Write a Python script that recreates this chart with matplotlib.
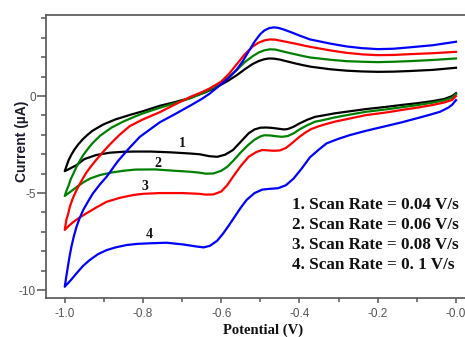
import matplotlib
matplotlib.use("Agg")
import matplotlib.pyplot as plt
from matplotlib.ticker import MultipleLocator, FixedLocator, FixedFormatter

# ---------------- data ----------------
# Each curve: cathodic branch (0 -> -1 V) followed by anodic branch (-1 -> 0 V)
x1_low = [0.0, -0.01, -0.03, -0.06, -0.10, -0.14, -0.18, -0.23, -0.27, -0.31, -0.34, -0.36, -0.38, -0.40, -0.415, -0.43, -0.44, -0.455, -0.47, -0.485, -0.50, -0.515, -0.53, -0.55, -0.57, -0.59, -0.61, -0.63, -0.655, -0.68, -0.73, -0.78, -0.82, -0.85, -0.885, -0.92, -0.95, -0.97, -0.985, -1.0]
y1_low = [0.15, 0.0, -0.15, -0.26, -0.37, -0.46, -0.56, -0.67, -0.78, -0.89, -1.0, -1.07, -1.22, -1.41, -1.58, -1.70, -1.72, -1.68, -1.64, -1.62, -1.63, -1.72, -1.92, -2.35, -2.78, -3.02, -3.13, -3.10, -3.00, -2.96, -2.90, -2.86, -2.86, -2.87, -2.92, -3.04, -3.25, -3.56, -3.72, -3.87]
x1_up = [-1.0, -0.995, -0.99, -0.983, -0.975, -0.965, -0.955, -0.943, -0.93, -0.915, -0.90, -0.87, -0.83, -0.80, -0.757, -0.72, -0.68, -0.64, -0.61, -0.585, -0.56, -0.54, -0.52, -0.505, -0.49, -0.478, -0.465, -0.45, -0.43, -0.41, -0.39, -0.37, -0.32, -0.28, -0.24, -0.20, -0.16, -0.12, -0.06, 0.0]
y1_up = [-3.87, -3.58, -3.30, -3.02, -2.75, -2.48, -2.25, -2.02, -1.80, -1.62, -1.45, -1.20, -0.95, -0.78, -0.50, -0.32, -0.10, 0.20, 0.48, 0.76, 1.08, 1.38, 1.65, 1.80, 1.90, 1.94, 1.93, 1.88, 1.78, 1.68, 1.59, 1.51, 1.38, 1.31, 1.27, 1.25, 1.26, 1.29, 1.35, 1.46]

x2_low = [0.0, -0.01, -0.03, -0.06, -0.10, -0.14, -0.18, -0.23, -0.27, -0.31, -0.34, -0.36, -0.38, -0.40, -0.415, -0.43, -0.445, -0.46, -0.475, -0.49, -0.50, -0.515, -0.53, -0.55, -0.57, -0.585, -0.60, -0.62, -0.64, -0.655, -0.68, -0.72, -0.77, -0.82, -0.85, -0.88, -0.91, -0.935, -0.95, -0.965, -0.98, -0.99, -1.0]
y2_low = [0.10, -0.08, -0.22, -0.34, -0.47, -0.58, -0.69, -0.81, -0.95, -1.10, -1.24, -1.32, -1.50, -1.72, -1.92, -2.06, -2.10, -2.07, -2.03, -2.02, -2.08, -2.25, -2.50, -2.90, -3.35, -3.65, -3.85, -3.99, -4.00, -3.95, -3.90, -3.85, -3.78, -3.79, -3.85, -3.94, -4.07, -4.25, -4.42, -4.62, -4.85, -5.00, -5.15]
x2_up = [-1.0, -0.995, -0.99, -0.985, -0.978, -0.97, -0.962, -0.953, -0.94, -0.93, -0.91, -0.88, -0.851, -0.82, -0.80, -0.757, -0.72, -0.68, -0.64, -0.61, -0.585, -0.56, -0.54, -0.52, -0.505, -0.49, -0.476, -0.462, -0.45, -0.43, -0.41, -0.39, -0.373, -0.32, -0.28, -0.24, -0.20, -0.16, -0.12, -0.06, 0.0]
y2_up = [-5.15, -4.85, -4.60, -4.30, -4.00, -3.65, -3.35, -3.05, -2.70, -2.45, -2.05, -1.62, -1.32, -1.05, -0.89, -0.60, -0.38, -0.12, 0.22, 0.55, 0.92, 1.35, 1.75, 2.05, 2.24, 2.36, 2.41, 2.40, 2.34, 2.24, 2.15, 2.06, 1.99, 1.87, 1.80, 1.77, 1.75, 1.77, 1.80, 1.86, 1.94]

x3_low = [0.0, -0.01, -0.03, -0.06, -0.10, -0.14, -0.18, -0.23, -0.27, -0.31, -0.33, -0.35, -0.37, -0.385, -0.40, -0.42, -0.435, -0.45, -0.465, -0.48, -0.495, -0.51, -0.53, -0.55, -0.57, -0.585, -0.60, -0.62, -0.64, -0.655, -0.70, -0.757, -0.80, -0.825, -0.86, -0.893, -0.92, -0.945, -0.965, -0.98, -0.99, -1.0]
y3_low = [0.0, -0.20, -0.33, -0.46, -0.60, -0.72, -0.85, -0.98, -1.15, -1.32, -1.43, -1.55, -1.70, -1.88, -2.10, -2.44, -2.68, -2.80, -2.82, -2.80, -2.78, -2.88, -3.13, -3.60, -4.16, -4.60, -4.92, -5.07, -5.08, -5.04, -5.00, -5.00, -5.04, -5.10, -5.25, -5.45, -5.75, -6.05, -6.30, -6.52, -6.70, -6.90]
x3_up = [-1.0, -0.996, -0.991, -0.987, -0.98, -0.97, -0.958, -0.945, -0.932, -0.92, -0.903, -0.885, -0.86, -0.834, -0.80, -0.757, -0.72, -0.68, -0.65, -0.629, -0.60, -0.58, -0.56, -0.54, -0.52, -0.505, -0.49, -0.476, -0.462, -0.45, -0.43, -0.41, -0.39, -0.373, -0.32, -0.28, -0.24, -0.20, -0.16, -0.12, -0.06, 0.0]
y3_up = [-6.90, -6.39, -6.05, -5.71, -5.30, -4.85, -4.40, -3.95, -3.60, -3.30, -2.90, -2.50, -2.00, -1.55, -1.20, -0.83, -0.45, -0.05, 0.20, 0.40, 0.75, 1.15, 1.65, 2.15, 2.55, 2.75, 2.87, 2.92, 2.91, 2.86, 2.78, 2.70, 2.61, 2.54, 2.35, 2.23, 2.15, 2.11, 2.12, 2.16, 2.21, 2.28]

x4_low = [0.0, -0.01, -0.02, -0.041, -0.07, -0.101, -0.14, -0.186, -0.23, -0.271, -0.30, -0.331, -0.35, -0.373, -0.395, -0.415, -0.435, -0.455, -0.475, -0.495, -0.515, -0.535, -0.55, -0.565, -0.58, -0.595, -0.61, -0.629, -0.645, -0.665, -0.697, -0.740, -0.783, -0.815, -0.842, -0.87, -0.893, -0.915, -0.936, -0.953, -0.970, -0.985, -1.0]
y4_low = [-0.21, -0.45, -0.60, -0.81, -0.98, -1.15, -1.36, -1.58, -1.79, -2.01, -2.20, -2.44, -2.75, -3.15, -3.75, -4.25, -4.60, -4.75, -4.78, -4.82, -5.00, -5.35, -5.75, -6.20, -6.65, -7.08, -7.45, -7.72, -7.80, -7.75, -7.65, -7.56, -7.59, -7.62, -7.68, -7.80, -7.94, -8.15, -8.45, -8.75, -9.14, -9.50, -9.83]
x4_up = [-1.0, -0.996, -0.992, -0.988, -0.983, -0.977, -0.970, -0.962, -0.953, -0.94, -0.928, -0.91, -0.893, -0.864, -0.836, -0.808, -0.757, -0.72, -0.68, -0.65, -0.63, -0.61, -0.58, -0.561, -0.545, -0.53, -0.515, -0.50, -0.49, -0.478, -0.466, -0.455, -0.44, -0.42, -0.40, -0.373, -0.32, -0.28, -0.24, -0.20, -0.16, -0.12, -0.06, 0.0]
y4_up = [-9.83, -9.30, -8.80, -8.30, -7.77, -7.25, -6.74, -6.30, -5.88, -5.42, -5.02, -4.55, -4.16, -3.35, -2.70, -2.10, -1.35, -0.95, -0.50, -0.15, 0.12, 0.45, 0.95, 1.35, 1.80, 2.30, 2.80, 3.20, 3.38, 3.50, 3.54, 3.52, 3.43, 3.28, 3.12, 2.92, 2.70, 2.56, 2.47, 2.42, 2.44, 2.51, 2.62, 2.80]

curve_ids = ["1", "2", "3", "4"]
curve_colors = ["#000000", "#008000", "#ff0000", "#0000ff"]
curve_label_pos = [(-0.70, -2.44), (-0.761, -3.47), (-0.795, -4.64), (-0.784, -7.16)]
legend_lines = ["1. Scan Rate = 0.04 V/s", "2. Scan Rate = 0.06 V/s",
                "3. Scan Rate = 0.08 V/s", "4. Scan Rate = 0. 1 V/s"]

x_ticks = [-1.0, -0.8, -0.6, -0.4, -0.2, 0.0]
x_ticklabels = ["-1.0", "-0.8", "-0.6", "-0.4", "-0.2", "-0.0"]
y_ticks = [-10, -5, 0]
y_ticklabels = ["-10", "-5", "0"]

# ---------------- figure ----------------
fig = plt.figure(figsize=(4.65, 3.37), dpi=100)
ax = fig.add_axes([0.098, 0.1157, 0.902, 0.8398])

curves = [(x1_low + x1_up, y1_low + y1_up),
          (x2_low + x2_up, y2_low + y2_up),
          (x3_low + x3_up, y3_low + y3_up),
          (x4_low + x4_up, y4_low + y4_up)]
for (xs, ys), c in zip(curves, curve_colors):
    ax.plot(xs, ys, color=c, lw=1.6, solid_joinstyle="round")

for lab, (lx, ly) in zip(curve_ids, curve_label_pos):
    ax.text(lx, ly, lab, family="Liberation Serif", fontweight="bold",
            fontsize=10, ha="center", va="center", color="#111111")

for i, line in enumerate(legend_lines):
    ax.text(0.587, 0.33 - i * 0.0707, line, transform=ax.transAxes,
            family="Liberation Serif", fontweight="bold", fontsize=12.3,
            ha="left", va="center", color="#111111")

ax.set_xlim(-1.049, 0.023)
ax.set_ylim(-10.41, 4.18)

ax.xaxis.set_major_locator(FixedLocator(x_ticks))
ax.xaxis.set_major_formatter(FixedFormatter(x_ticklabels))
ax.xaxis.set_minor_locator(MultipleLocator(0.1))
ax.yaxis.set_major_locator(FixedLocator(y_ticks))
ax.yaxis.set_major_formatter(FixedFormatter(y_ticklabels))
ax.yaxis.set_minor_locator(MultipleLocator(1))

ax.spines["right"].set_visible(False)
for s in ["left", "bottom", "top"]:
    ax.spines[s].set_color("#555555")
    ax.spines[s].set_linewidth(1.2)

ax.tick_params(axis="x", which="major", direction="out", length=3.5, width=1.1,
               color="#555555", labelsize=8.5, labelcolor="#555555", pad=3.5)
ax.tick_params(axis="x", which="minor", direction="out", length=3, width=1.1, color="#555555")
ax.tick_params(axis="y", which="major", direction="out", length=6.5, width=1.1,
               color="#555555", labelsize=8.5, labelcolor="#555555", pad=0.5)
ax.tick_params(axis="y", which="minor", direction="out", length=3.8, width=1.1, color="#555555")
ax.tick_params(top=False, right=False, which="both")
for lbl in ax.get_xticklabels() + ax.get_yticklabels():
    lbl.set_family("Liberation Sans")

ax.set_ylabel("Current (\u00b5A)", family="Liberation Sans", fontweight="bold",
              fontsize=10, color="#1a1a2e")
ax.yaxis.set_label_coords(-0.0565, 0.555)
ax.set_xlabel("Potential (V)", family="Liberation Serif", fontweight="bold",
              fontsize=10.5, color="#111111")
ax.xaxis.set_label_coords(0.518, -0.113)
ax.xaxis.label.set_va("center")
ax.yaxis.label.set_va("center")

fig.savefig("out.png", dpi=100)
